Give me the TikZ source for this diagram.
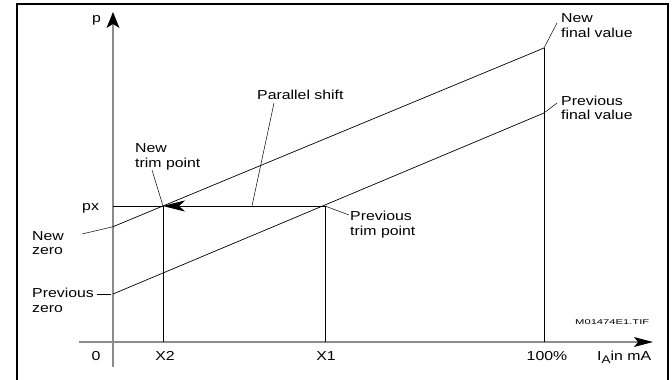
\documentclass[tikz,border=0pt]{standalone}
\usepackage{fontspec}
\setmainfont{Liberation Sans}[FakeStretch=1.22]
\newfontfamily\tinyfont{Liberation Sans}[FakeStretch=1.6]
\usetikzlibrary{arrows.meta}
\begin{document}
\begin{tikzpicture}[x=1pt,y=-1pt,
  lbl/.style={inner sep=0pt, anchor=base west, align=left, font=\fontsize{13}{14.5}\selectfont},
  tick/.style={inner sep=0pt, anchor=base, font=\fontsize{13}{15}\selectfont},
  axis/.style={draw=black!45, line width=1.3pt},
  curve/.style={draw=black, line width=0.7pt},
  leader/.style={draw=black, line width=0.5pt}]
\useasboundingbox (0,0) rectangle (672,380);
% frame
\draw[line width=1.2pt] (17,385) -- (17,4) -- (668,4) -- (668,385);
% key points
\coordinate (Zn) at (113,226.7);
\coordinate (Zp) at (113,294);
\coordinate (Fn) at (544,48);
\coordinate (Fp) at (544,113);
\coordinate (T2) at (163,206);
\coordinate (T1) at (325,206);
\coordinate (Ypx) at (113,206);
\coordinate (B2) at (163,342);
\coordinate (B1) at (325,342);
\coordinate (B100) at (544,342);
\coordinate (Ybot) at (113,367);
\coordinate (Ytop) at (113,12);
\coordinate (Xl) at (79,342);
\coordinate (Xr) at (653,342);
% axes
\draw[axis, -{Stealth[length=16pt,width=13pt,inset=4pt,color=black,line width=0pt]}] (Ybot) -- (Ytop);
\draw[axis, -{Stealth[length=19pt,width=10pt,inset=4pt,color=black,line width=0pt]}] (Xl) -- (Xr);
% verticals
\draw[curve] (B2) -- (T2);
\draw[curve] (B1) -- (T1);
\draw[curve] (B100) -- (Fn);
% characteristic lines
\draw[curve] (Zn) -- (Fn);
\draw[curve] (Zp) -- (Fp);
% px line
\draw[curve] (Ypx) -- (T2);
\draw[curve, -{Stealth[length=22pt,width=11pt,inset=6pt]}] (T1) -- (T2);
% labels (base = baseline of last line)
\node[lbl] (p) at (92,23) {p};
\node[lbl] (px) at (82,210) {px};
\node[lbl] (nz) at (32,254.5) {New\\zero};
\node[lbl] (pz) at (32,312) {Previous\\zero};
\node[lbl] (ntp) at (135,167) {New\\trim point};
\node[lbl] (ps) at (257,99) {Parallel shift};
\node[lbl] (ptp) at (350,235) {Previous\\trim point};
\node[lbl] (nfv) at (561,37.5) {New\\final value};
\node[lbl] (pfv) at (561,119.5) {Previous\\final value};
\node[tick] (t0) at (96,360) {0};
\node[tick] (tx2) at (165,360) {X2};
\node[tick] (tx1) at (326,360) {X1};
\node[tick] (t100) at (547,360) {100\%};
\node[lbl] (ia) at (597,360) {I\raisebox{-3pt}{\fontsize{11}{13}\selectfont A}in mA};
\node[inner sep=0pt, anchor=base west, font=\tinyfont\fontsize{7}{8}\selectfont] (fig) at (575,324) {M01474E1.TIF};
% leaders
\coordinate (Lntp) at (152,170);
\coordinate (Lps1) at (274,103);
\coordinate (Lps2) at (252,206);
\coordinate (Lptp) at (349,215);
\coordinate (Lnfv) at (557,23);
\coordinate (Lpfv) at (557,103);
\coordinate (Lnz) at (82,234);
\coordinate (Lpz1) at (97,294);
\coordinate (Lpz2) at (111,294);
\draw[leader] (Lntp) -- (T2);
\draw[leader] (Lps1) -- (Lps2);
\draw[leader] (T1) -- (Lptp);
\draw[leader] (Fn) -- (Lnfv);
\draw[leader] (Fp) -- (Lpfv);
\draw[leader] (Lnz) -- (Zn);
\draw[leader] (Lpz1) -- (Lpz2);
\end{tikzpicture}
\end{document}
